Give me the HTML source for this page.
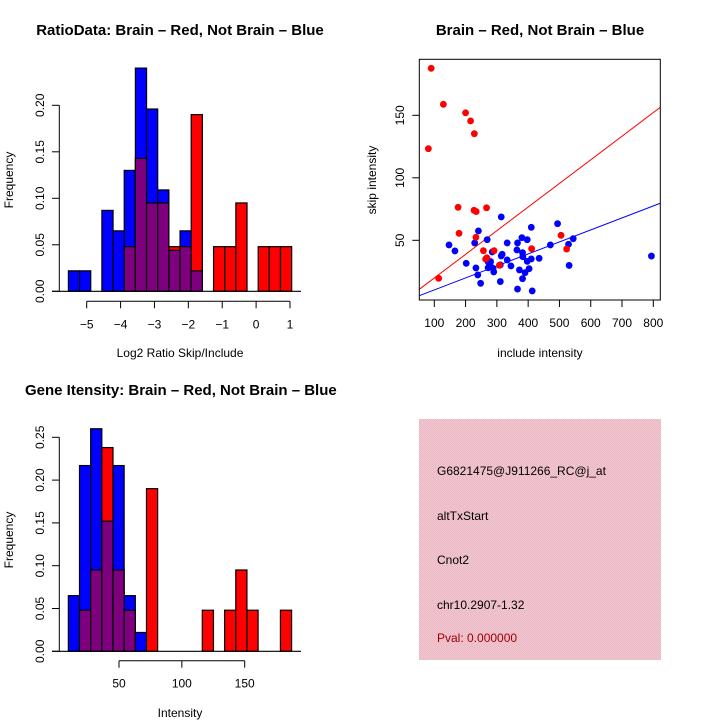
<!DOCTYPE html>
<html><head><meta charset="utf-8"><style>
body{margin:0;background:#fff;}
svg{display:block;font-family:"Liberation Sans",sans-serif;}
</style></head><body>
<svg id="c" width="720" height="720" viewBox="0 0 720 720">
<defs><pattern id="pk" width="2" height="2" patternUnits="userSpaceOnUse"><rect width="2" height="2" fill="#f4c6d0"/><rect width="1" height="1" fill="#e8b8c4"/><rect x="1" y="1" width="1" height="1" fill="#e8b8c4"/></pattern></defs>
<text x="180" y="35" text-anchor="middle" font-size="15" font-weight="bold">RatioData: Brain – Red, Not Brain – Blue</text>
<text x="540" y="35" text-anchor="middle" font-size="15" font-weight="bold">Brain – Red, Not Brain – Blue</text>
<text x="25" y="395" font-size="15" font-weight="bold">Gene Itensity: Brain – Red, Not Brain – Blue</text>
<rect x="419" y="419" width="242" height="241" fill="url(#pk)"/>
<g font-size="12">
<text x="437" y="475">G6821475@J911266_RC@j_at</text>
<text x="437" y="520">altTxStart</text>
<text x="437" y="564">Cnot2</text>
<text x="437" y="609">chr10.2907-1.32</text>
<text x="437" y="642" fill="#a00000">Pval: 0.000000</text>
</g>
</svg>
<script>
// ratio histogram
const ratioBlue=[0.022,0.022,0,0.087,0.065,0.13,0.24,0.196,0.109,0.044,0.065,0.022,0,0,0,0,0,0,0,0];
const ratioRed=[0,0,0,0,0,0.048,0.143,0.095,0.095,0.048,0.048,0.19,0,0.048,0.048,0.095,0,0.048,0.048,0.048];
const ratioStart=-5.54, ratioBinW=0.3295;
const ratioXTicks=[-5,-4,-3,-2,-1,0,1];
const freqTicks1=[0,0.05,0.10,0.15,0.20];
// intensity histogram
const intBlue=[0.065,0.217,0.26,0.152,0.217,0.065,0.022,0,0,0,0,0,0,0,0,0,0,0,0,0];
const intRed=[0,0.048,0.095,0.238,0.095,0.048,0,0.19,0,0,0,0,0.048,0,0.048,0.095,0.048,0,0,0.048];
const intStart=9.7, intBinW=8.88;
const intXTicks=[50,100,150];
const freqTicks2=[0,0.05,0.10,0.15,0.20,0.25];
// scatter
const redX=[90,81,129,200,216,228,176,227,234,267,179,233,257,264,268,291,308,411,505,523,114];
const redY=[187.6,123.3,158.8,152,145.5,135.3,76.4,74,73,76,55.6,52.4,41.7,35,36,41.7,30,43.3,54,43,19.6];
const blueX=[147,166,202,241,229,269,233,239,248,285,272,278,272,288,290,314,317,311,311,314,333,333,345,364,366,380,382,383,397,397,372,390,382,366,413,410,410,403,435,471,494,529,544,531,794,280];
const blueY=[46.3,41.5,31.6,57.5,47.9,50.5,27.9,22.3,15.6,40.7,32.7,31,28,27.6,24.7,37.5,38.8,30.3,17,68.7,47.9,34.3,29.5,42.3,47.9,52.1,40.1,36.9,50.5,33.2,26.3,24.1,19.3,11,9.5,60.4,35.1,27.3,35.6,46.3,63.3,46.8,51.3,29.9,37.4,33];
const fitIntercept=[0.97,0.7], fitSlope=[0.189,0.096];
const scXTicks=[100,200,300,400,500,600,700,800];
const scYTicks=[50,100,150];

const svg=document.getElementById('c');
const NS='http://www.w3.org/2000/svg';
function mk(t,a,parent){const e=document.createElementNS(NS,t);for(const k in a)e.setAttribute(k,a[k]);(parent||svg).appendChild(e);return e;}
function fmt(v,d){return v.toFixed(d);}

function hist(o){
  const g=mk('g',{});
  
  
  const X=v=>o.x0+(v-o.xv0)*o.xs, Y=v=>o.y0-v*o.ys;
  for(let i=0;i<o.blue.length;i++){
    const a=o.start+i*o.w,b=a+o.w,bl=o.blue[i],rd=o.red[i];
    const mx=Math.max(bl,rd),mn=Math.min(bl,rd);
    if(mx>0){const r=mk('rect',{x:X(a),y:Y(mx),width:X(b)-X(a),height:Y(0)-Y(mx),fill:bl>=rd?'#0000ff':'#ff0000',stroke:'#000','stroke-width':1.2},g);
      
      }
    if(mn>0){const r=mk('rect',{x:X(a),y:Y(mn),width:X(b)-X(a),height:Y(0)-Y(mn),fill:'#7f007f',stroke:'#000','stroke-width':1.2},g);
      
      }
  }
  mk('line',{x1:52,x2:301,y1:Y(0),y2:Y(0),stroke:'#000','stroke-width':1.2},g);
  const xa=o.y0+o.xaxOff;
  mk('line',{x1:X(o.xt[0]),x2:X(o.xt[o.xt.length-1]),y1:xa,y2:xa,stroke:'#000'},g);
  o.xt.forEach(t=>{mk('line',{x1:X(t),x2:X(t),y1:xa,y2:xa+7,stroke:'#000'},g);
    const tx=mk('text',{x:X(t),y:xa+27,'text-anchor':'middle','font-size':12},g);tx.textContent=String(t).replace('-','−');
    
    });
  const xt=mk('text',{x:o.titleX,y:o.titleY,'text-anchor':'middle','font-size':12},g);xt.textContent=o.xtitle;
  
  
  mk('line',{x1:59.3,x2:59.3,y1:Y(o.yt[0]),y2:Y(o.yt[o.yt.length-1]),stroke:'#000'},g);
  o.yt.forEach(t=>{mk('line',{x1:52,x2:59.3,y1:Y(t),y2:Y(t),stroke:'#000'},g);
    const tx=mk('text',{x:44,y:Y(t),'text-anchor':'middle','font-size':12,transform:`rotate(-90 44 ${Y(t)})`},g);tx.textContent=fmt(t,2);
    
    });
  const yt=mk('text',{x:13,y:o.yMid,'text-anchor':'middle','font-size':12,transform:`rotate(-90 13 ${o.yMid})`},g);yt.textContent='Frequency';
  
  
}
hist({name:'ratio-histogram',blue:ratioBlue,red:ratioRed,start:ratioStart,w:ratioBinW,x0:86.7,xv0:-5,xs:33.88,y0:291.3,ys:930,xt:ratioXTicks,yt:freqTicks1,xaxOff:10,xtitle:'Log2 Ratio Skip/Include',titleX:180,titleY:357,yMid:180});
hist({name:'intensity-histogram',blue:intBlue,red:intRed,start:intStart,w:intBinW,x0:119,xv0:50,xs:1.257,y0:651.3,ys:856,xt:intXTicks,yt:freqTicks2,xaxOff:9.4,xtitle:'Intensity',titleX:180,titleY:717,yMid:540});

(function(){
  const g=mk('g',{});
  
  
  const X=v=>434.3+(v-100)*0.31286, Y=v=>240.3-(v-50)*1.25;
  const L=419.3,R=660.3,T=59.3,B=300;
  const cp=mk('clipPath',{id:'sc'},g);mk('rect',{x:L,y:T,width:R-L,height:B-T},cp);
  const pts=mk('g',{'clip-path':'url(#sc)'},g);
  const xl=(L-434.3)/0.31286+100,xr=(R-434.3)/0.31286+100;
  ['#ff0000','#0000ff'].forEach((c,i)=>{const l=mk('line',{x1:X(xl),y1:Y(fitIntercept[i]+fitSlope[i]*xl),x2:X(xr),y2:Y(fitIntercept[i]+fitSlope[i]*xr),stroke:c},pts);
    
    });
  blueX.forEach((v,i)=>{const c=mk('circle',{cx:X(v),cy:Y(blueY[i]),r:3.4,fill:'#0000ff'},pts);
    
    });
  redX.forEach((v,i)=>{const c=mk('circle',{cx:X(v),cy:Y(redY[i]),r:3.4,fill:'#ff0000'},pts);
    
    });
  mk('rect',{x:L,y:T,width:R-L,height:B-T,fill:'none',stroke:'#000'},g);
  scXTicks.forEach(t=>{mk('line',{x1:X(t),x2:X(t),y1:B,y2:B+7,stroke:'#000'},g);
    const tx=mk('text',{x:X(t),y:327,'text-anchor':'middle','font-size':12},g);tx.textContent=t;
    
    });
  scYTicks.forEach(t=>{mk('line',{x1:L-7,x2:L,y1:Y(t),y2:Y(t),stroke:'#000'},g);
    const tx=mk('text',{x:404,y:Y(t),'text-anchor':'middle','font-size':12,transform:`rotate(-90 404 ${Y(t)})`},g);tx.textContent=t;
    
    });
  const xt=mk('text',{x:540,y:357,'text-anchor':'middle','font-size':12},g);xt.textContent='include intensity';
  
  
  const yt=mk('text',{x:376,y:180,'text-anchor':'middle','font-size':12,transform:'rotate(-90 376 180)'},g);yt.textContent='skip intensity';
  
  
})();
</script>
</body></html>
